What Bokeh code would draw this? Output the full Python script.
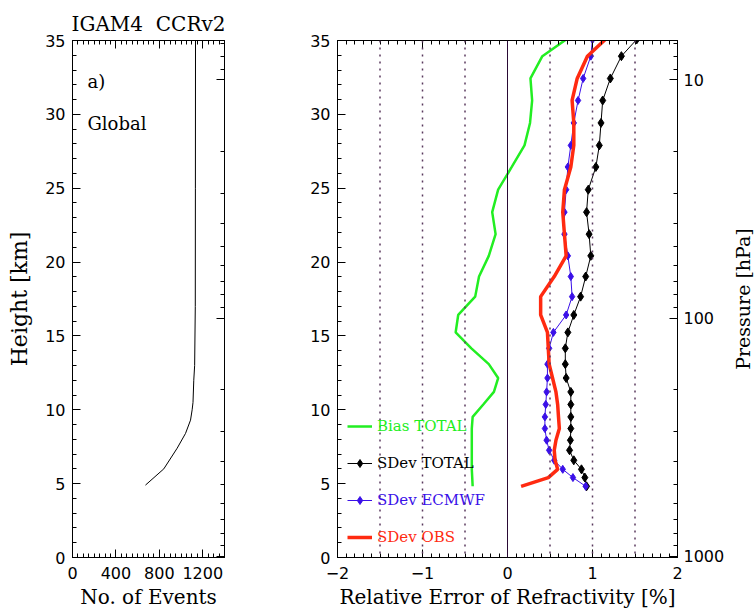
import math
from bokeh.plotting import figure
from bokeh.layouts import row
from bokeh.models import (Span, Legend, LegendItem, LinearAxis, FixedTicker,
                          SingleIntervalTicker, Label, Range1d)
from bokeh.embed import file_html
from bokeh.resources import INLINE

# ---------------- data ----------------
event_height = [35.0, 25.0, 17.0, 13.0, 12.0, 10.5, 10.0, 9.3, 8.4, 7.4, 6.0, 4.9]
event_count = [1133, 1132, 1131, 1125, 1117, 1110, 1102, 1087, 1041, 964, 841, 672]

height = [35.07, 33.94, 32.43, 30.94, 29.42, 27.90, 26.44, 24.90, 23.38, 21.89,
          20.42, 19.02, 17.66, 16.42, 15.24, 14.16, 13.09, 12.15, 11.21, 10.36,
          9.52, 8.73, 7.94, 7.26, 6.58, 5.97, 5.41, 4.82]
bias_total = [0.69, 0.41, 0.27, 0.29, 0.265, 0.20, 0.05, -0.11, -0.18, -0.14,
              -0.22, -0.335, -0.38, -0.58, -0.61, -0.425, -0.22, -0.11, -0.16, -0.285,
              -0.41, -0.42, -0.42, -0.42, -0.42, -0.42, -0.415, -0.41]
sdev_total = [1.52, 1.34, 1.21, 1.12, 1.10, 1.08, 1.04, 0.95, 0.93, 0.96,
              0.98, 0.92, 0.86, 0.78, 0.71, 0.68, 0.68, 0.69, 0.745, 0.745,
              0.745, 0.745, 0.74, 0.73, 0.78, 0.87, 0.91, 0.93]
sdev_ecmwf = [1.00, 0.98, 0.89, 0.83, 0.78, 0.745, 0.71, 0.69, 0.67, 0.67,
              0.71, 0.745, 0.76, 0.69, 0.54, 0.49, 0.47, 0.47, 0.46, 0.45,
              0.44, 0.44, 0.46, 0.49, 0.55, 0.65, 0.77, 0.92]
sdev_obs = [1.15, 0.94, 0.82, 0.76, 0.78, 0.78, 0.745, 0.67, 0.65, 0.67,
            0.69, 0.55, 0.39, 0.39, 0.47, 0.48, 0.49, 0.53, 0.57, 0.59,
            0.60, 0.61, 0.57, 0.55, 0.56, 0.59, 0.48, 0.16]

grid_dotted = [-1.5, -1.0, -0.5, 0.5, 1.0, 1.5]
pressure_major = [10, 100, 1000]
pressure_minor = [7, 8, 9, 20, 30, 40, 50, 60, 70, 80, 90,
                  200, 300, 400, 500, 600, 700, 800, 900]
events_major = [0, 400, 800, 1200]
events_minor = list(range(0, 1401, 50))

SCALE_H = 7.0
P0 = 1013.25


def p2z(p):
    return round(SCALE_H * math.log(P0 / p), 4)


SERIF = "DejaVu Serif"
SANS = "DejaVu Sans"
FS = "16px"
AFS = "20px"


def style_axis(ax, labels=True):
    ax.major_tick_in = 8
    ax.major_tick_out = 0
    ax.minor_tick_in = 4
    ax.minor_tick_out = 0
    ax.axis_line_color = "black"
    ax.major_tick_line_color = "black"
    ax.minor_tick_line_color = "black"
    ax.major_label_text_font = SANS
    ax.major_label_text_color = "black"
    ax.axis_label_text_font = SERIF
    ax.axis_label_text_font_style = "normal"
    ax.axis_label_text_font_size = AFS
    ax.axis_label_text_color = "black"
    if labels:
        ax.major_label_text_font_size = FS
    else:
        ax.major_label_text_font_size = "0px"
        ax.major_label_text_alpha = 0
        ax.major_label_standoff = 0


# ---------------- left panel ----------------
p1 = figure(width=250, height=612, output_backend="svg", toolbar_location=None,
            x_range=Range1d(0, 1400), y_range=Range1d(0, 35),
            min_border_left=72, min_border_right=26, min_border_top=40,
            min_border_bottom=55, title="IGAM4\u00a0\u00a0CCRv2")
p1.title.text_font = SERIF
p1.title.text_font_size = "20px"
p1.title.text_font_style = "normal"
p1.title.align = "center"
p1.title.text_color = "black"
p1.grid.visible = False
p1.outline_line_color = "black"
p1.background_fill_color = "white"
p1.border_fill_color = "white"

p1.xaxis.ticker = FixedTicker(ticks=events_major, minor_ticks=events_minor)
p1.xaxis.axis_label = "No. of Events"
p1.yaxis.ticker = SingleIntervalTicker(interval=5, num_minor_ticks=5)
p1.yaxis.axis_label = "Height [km]"
for ax in p1.xaxis + p1.yaxis:
    style_axis(ax)
p1.xaxis.major_label_standoff = 9
p1.xaxis.axis_label_standoff = 3
p1.yaxis.major_label_standoff = 7
p1.yaxis.axis_label_standoff = 10
p1.yaxis.axis_label_text_font_size = "22px"

top1 = LinearAxis(ticker=FixedTicker(ticks=events_major, minor_ticks=events_minor))
style_axis(top1, labels=False)
p1.add_layout(top1, "above")
right1 = LinearAxis(ticker=FixedTicker(ticks=[p2z(p) for p in pressure_major],
                                       minor_ticks=[p2z(p) for p in pressure_minor]))
style_axis(right1, labels=False)
p1.add_layout(right1, "right")

p1.line(event_count, event_height, line_color="black", line_width=1)

p1.add_layout(Label(x=138, y=32.2, text="a)", text_font=SERIF, text_font_size="18px",
                    text_baseline="middle", text_color="black"))
p1.add_layout(Label(x=138, y=29.4, text="Global", text_font=SERIF, text_font_size="18px",
                    text_baseline="middle", text_color="black"))

# ---------------- right panel ----------------
p2 = figure(width=477, height=612, output_backend="svg", toolbar_location=None,
            x_range=Range1d(-2, 2), y_range=Range1d(0, 35),
            min_border_left=87, min_border_right=48, min_border_top=40,
            min_border_bottom=55)
p2.grid.visible = False
p2.outline_line_color = "black"
p2.background_fill_color = "white"
p2.border_fill_color = "white"

p2.xaxis.ticker = SingleIntervalTicker(interval=1, num_minor_ticks=10)
p2.xaxis.axis_label = "Relative Error of Refractivity [%]"
p2.yaxis.ticker = SingleIntervalTicker(interval=5, num_minor_ticks=5)
for ax in p2.xaxis + p2.yaxis:
    style_axis(ax)
p2.xaxis.major_label_standoff = 9
p2.xaxis.axis_label_standoff = 3
p2.yaxis.major_label_standoff = 7

top2 = LinearAxis(ticker=SingleIntervalTicker(interval=1, num_minor_ticks=10))
style_axis(top2, labels=False)
p2.add_layout(top2, "above")
right2 = LinearAxis(ticker=FixedTicker(ticks=[p2z(p) for p in pressure_major],
                                       minor_ticks=[p2z(p) for p in pressure_minor]))
style_axis(right2)
right2.major_label_overrides = {p2z(p): str(p) for p in pressure_major}
right2.major_label_standoff = 6
p2.add_layout(right2, "right")

for g in grid_dotted:
    p2.add_layout(Span(location=g, dimension="height", line_color="#5a3a5e",
                       line_width=1.5, line_dash="2 5"))
p2.add_layout(Span(location=0, dimension="height", line_color="#2a0a35", line_width=1))

r_bias = p2.line(bias_total, height, line_color="#22ee22", line_width=2.5)
r_tot_l = p2.line(sdev_total, height, line_color="black", line_width=1)
r_tot_m = p2.scatter(sdev_total, height, marker="diamond", size=9,
                     fill_color="black", line_color="black")
r_ecm_l = p2.line(sdev_ecmwf, height, line_color="#3a10e8", line_width=1)
r_ecm_m = p2.scatter(sdev_ecmwf, height, marker="diamond", size=8,
                     fill_color="#3a10e8", line_color="#3a10e8")
r_obs = p2.line(sdev_obs, height, line_color="#ff2a10", line_width=3.5)

legend_specs = [("Bias TOTAL", [r_bias], "#22ee22", 121),
                ("SDev TOTAL", [r_tot_l, r_tot_m], "black", 84),
                ("SDev ECMWF", [r_ecm_l, r_ecm_m], "#3a10e8", 47),
                ("SDev OBS", [r_obs], "#ff2a10", 10)]
for text, rends, col, ypos in legend_specs:
    lg = Legend(items=[LegendItem(label=text, renderers=rends)], location=(10, ypos),
                border_line_color=None, background_fill_alpha=0, padding=0, margin=0,
                spacing=0, glyph_width=25, glyph_height=20, label_height=20,
                label_standoff=5, label_text_font=SERIF, label_text_font_size="15px",
                label_text_color=col)
    p2.add_layout(lg, "center")

# ---------------- strip holding the pressure-axis title ----------------
p3 = figure(width=27, height=612, output_backend="svg", toolbar_location=None,
            x_range=Range1d(0, 1), y_range=Range1d(0, 35), x_axis_location=None,
            min_border_left=26, min_border_right=0, min_border_top=40,
            min_border_bottom=55)
p3.grid.visible = False
p3.outline_line_color = None
p3.background_fill_color = "white"
p3.border_fill_color = "white"
ax3 = p3.yaxis[0]
style_axis(ax3, labels=False)
ax3.ticker = FixedTicker(ticks=[])
ax3.major_tick_in = 0
ax3.minor_tick_in = 0
ax3.axis_line_color = None
ax3.axis_label = "Pressure [hPa]"
ax3.axis_label_standoff = 0
ax3.axis_label_text_font_size = "19px"

layout = row(p1, p2, p3)
open("out.html", "w").write(file_html(layout, INLINE))
